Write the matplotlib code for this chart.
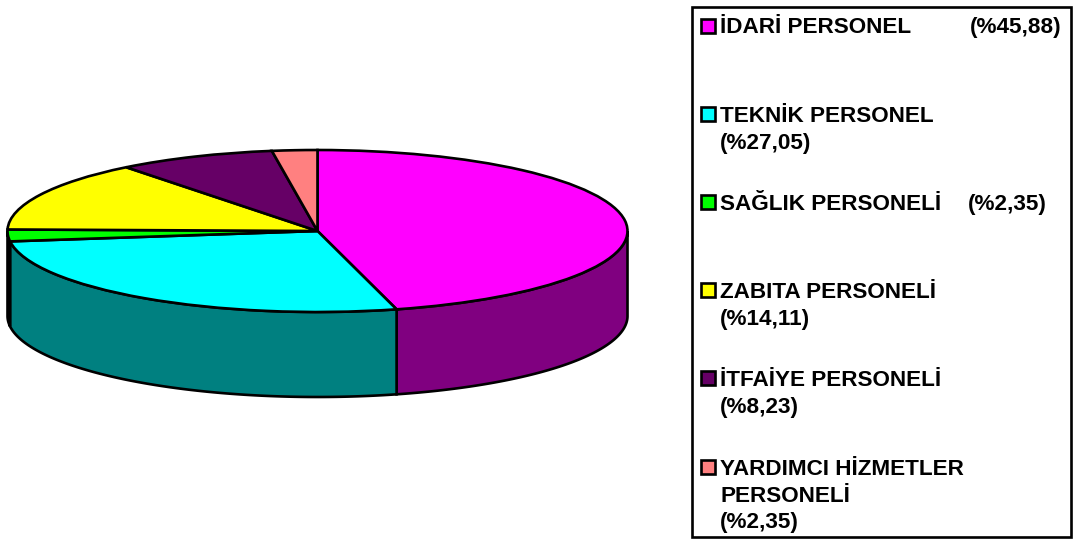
import matplotlib
matplotlib.use('Agg')
import matplotlib.pyplot as plt
import matplotlib.patches as patches
import numpy as np

plt.rcParams['font.family'] = ['Liberation Sans', 'DejaVu Sans']

# Data
etiquetas = ['İDARİ PERSONEL', 'TEKNİK PERSONEL\n(%27,05)', 'SAĞLIK PERSONELİ',
             'ZABITA PERSONELİ\n(%14,11)', 'İTFAİYE PERSONELİ\n(%8,23)',
             'YARDIMCI HİZMETLER\nPERSONELİ\n(%2,35)']
extras = ['(%45,88)', '', '(%2,35)', '', '', '']
valores = [45.88, 27.05, 2.35, 14.11, 8.23, 2.35]
colores = ['#FF00FF', '#00FFFF', '#00FF00', '#FFFF00', '#660066', '#FF8080']
laterales = ['#800080', '#008080', '#008000', '#808000', '#330033', '#804040']

W, H = 1073, 539
cx, cy, a, b, prof = 317.5, 231, 310, 81, 85
LW = 1.9
FS = 16.2

fig = plt.figure(figsize=(W / 100, H / 100), dpi=100)

# Pie axes: one data unit is one radius, squashed to a flat ellipse
top_px, bot_px, right_px = 140, 405, 640
ax = fig.add_axes([0, 1 - bot_px / H, right_px / W, (bot_px - top_px) / H])

# Side wall, only the front half (90 to 270 degrees clockwise from the top) shows
prof_u = prof / b
limites = np.cumsum([0] + valores) / sum(valores) * 360
for i in range(len(valores)):
    t0 = max(limites[i], 90)
    t1 = min(limites[i + 1], 270)
    if t1 <= t0:
        continue
    t = np.radians(np.linspace(t0, t1, 200))
    xs = np.sin(t)
    ys = np.cos(t)
    ax.fill(np.r_[xs, xs[::-1]], np.r_[ys, ys[::-1] - prof_u],
            facecolor=laterales[i], edgecolor='black', linewidth=LW, clip_on=False)

# Top face
ax.pie(valores, colors=colores, startangle=90, counterclock=False, normalize=True,
       wedgeprops={'edgecolor': 'black', 'linewidth': LW, 'clip_on': False})
ax.set_aspect('auto')
ax.set_xlim(-cx / a, (right_px - cx) / a)
ax.set_ylim((cy - bot_px) / b, (cy - top_px) / b)
ax.axis('off')

# Legend, drawn by hand because the rows are unevenly spaced
leg = fig.add_axes([0, 0, 1, 1])
leg.set_xlim(0, W)
leg.set_ylim(H, 0)
leg.axis('off')
leg.patch.set_alpha(0)
leg.add_patch(patches.Rectangle((692, 7), 379, 530, facecolor='white', edgecolor='black', linewidth=1.9))

filas_y = [27, 115, 203, 291, 379, 468]
base_y = [33, 122, 210, 298, 386, 475]
extras_x = [970, 0, 968, 0, 0, 0]
for i, etiqueta in enumerate(etiquetas):
    y = filas_y[i]
    leg.add_patch(patches.Rectangle((700.5, y - 8), 14, 14, facecolor=colores[i], edgecolor='black', linewidth=1.9))
    for j, linea in enumerate(etiqueta.split('\n')):
        leg.text(720, base_y[i] + j * 26.6, linea, fontsize=FS, fontweight='bold', va='baseline', ha='left')
    if extras[i]:
        leg.text(extras_x[i], base_y[i], extras[i], fontsize=FS, fontweight='bold', va='baseline', ha='left')

fig.savefig('out.png', dpi=100, facecolor='white')
